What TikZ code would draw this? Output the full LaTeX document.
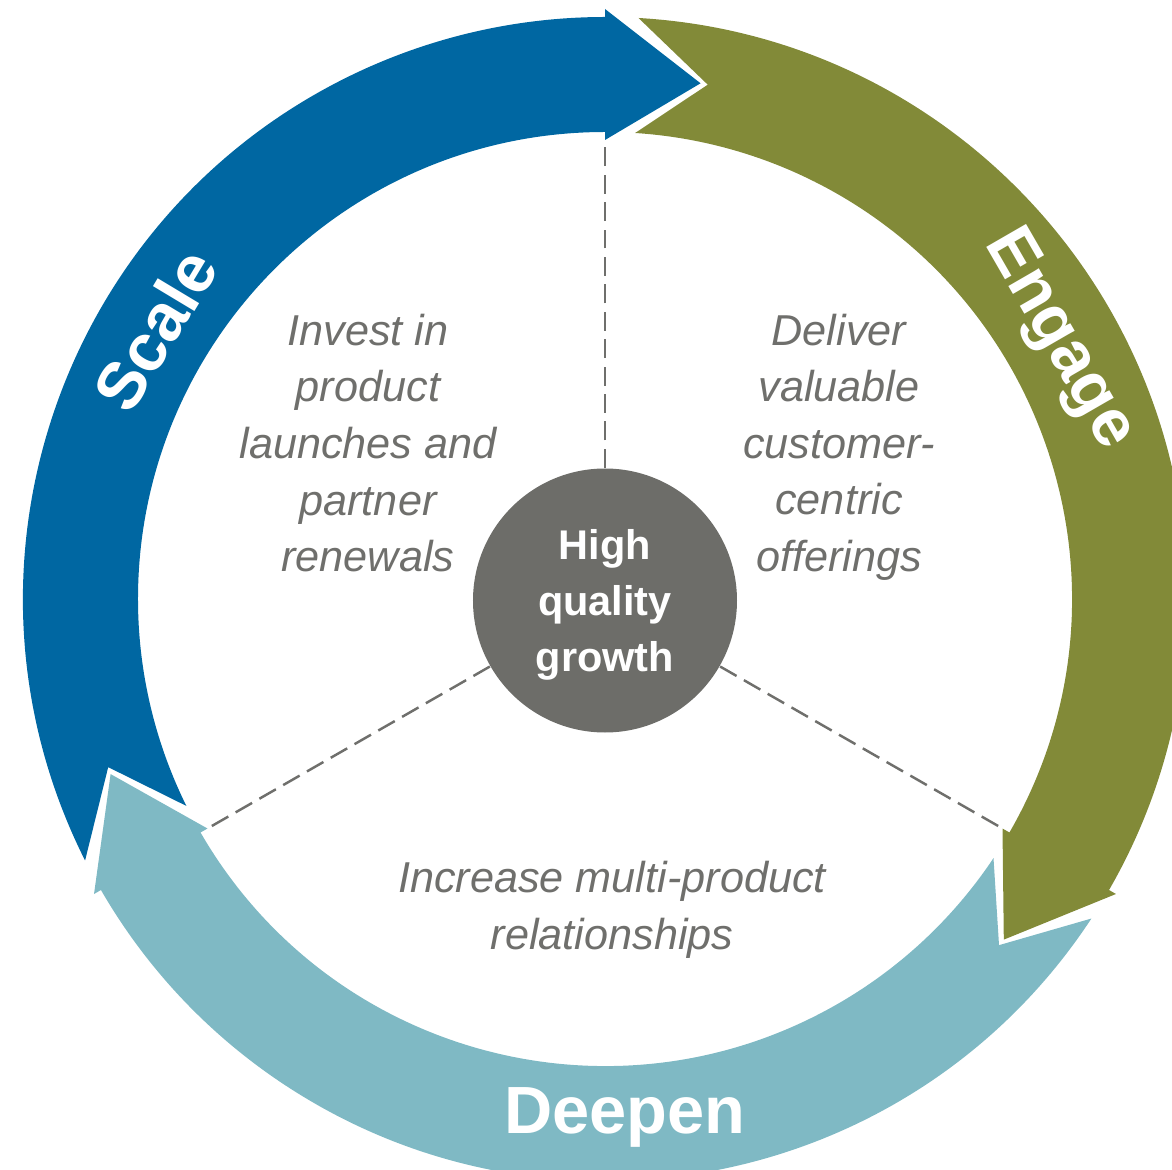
\documentclass[tikz,border=0pt]{standalone}
\usepackage{fontspec}
\setmainfont{Liberation Sans}
\definecolor{scaleblue}{HTML}{0067A2}
\definecolor{engagegreen}{HTML}{828A38}
\definecolor{deepenblue}{HTML}{7FB9C4}
\definecolor{hubgray}{HTML}{6D6D69}
\definecolor{notegray}{HTML}{6F6F6C}
\tikzset{
  % central circle
  hub/.style={circle, fill=hubgray, minimum size=2.64cm, inner sep=0pt, text depth=0pt,
    text=white, align=center, font=\fontsize{11.8}{15.9}\selectfont\bfseries},
  % white words on the ring
  ringlbl/.style={text=white, inner sep=0pt, font=\fontsize{19}{23}\selectfont\bfseries},
  % italic notes inside the ring
  note/.style={text=notegray, align=center, inner sep=0pt,
    font=\fontsize{12.3}{16.1}\selectfont\itshape},
  % dashed dividers
  divider/.style={draw=notegray, line width=0.7pt, dash pattern=on 5.4pt off 2.4pt},
}

\begin{document}
\begin{tikzpicture}
  \useasboundingbox (-6.05,-5.70) rectangle (5.67,5.99);
  \clip (-6.05,-5.70) rectangle (5.67,5.99);
  % ring arrows: tail angle / head base angle / colour
  \foreach \s/\b/\col in {206.7/90/scaleblue, 86.7/-30/engagegreen, -33.3/-150/deepenblue} {
    \fill[\col] (\s:5.82) arc[start angle=\s, end angle=\b, radius=5.82]
      -- (\b:5.90) -- ({\b-10.5}:5.245) -- (\b:4.59) -- (\b:4.67)
      arc[start angle=\b, end angle={\s-0.4}, radius=4.67]
      -- ({\s-8}:5.245) -- cycle;
  }
  \node[hub] (hub) at (0,-0.015) {High\\quality\\growth};
  \coordinate (dtop) at (90:4.52);
  \coordinate (dleft) at (210:4.58);
  \coordinate (dright) at (-30:4.55);
  \foreach \e in {dtop, dleft, dright} \draw[divider] (hub) -- (\e);
  \node[note] (invest) at (-2.37,1.56) {Invest in\\product\\launches and\\partner\\renewals};
  \node[note] (deliver) at (2.34,1.52) {Deliver\\valuable\\customer-\\centric\\offerings};
  \node[note] (increase) at (0.07,-3.11) {Increase multi-product\\relationships};
  \node[ringlbl, rotate=59] (scale) at (149.1:5.24) {Scale};
  \node[ringlbl, rotate=-60] (engage) at (29.75:5.22) {Engage};
  \node[ringlbl, anchor=base] (deepen) at (0.20,-5.34) {Deepen};
\end{tikzpicture}
\end{document}
